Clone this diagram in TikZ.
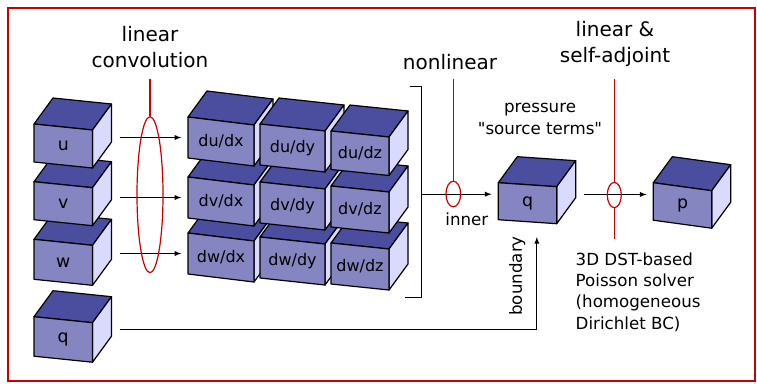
\documentclass[tikz,border=0pt]{standalone}
\usepackage{fontspec}
\setmainfont{DejaVu Sans}
\usepackage{tikz}
\usetikzlibrary{shapes, calc, arrows, positioning}

\definecolor{cubetop}{HTML}{4B4E9E}
\definecolor{cubefront}{HTML}{8585C1}
\definecolor{cubeside}{HTML}{DADAFD}
\definecolor{redline}{HTML}{CC0000}

\tikzset{
  face/.style={draw=black, line width=0.9pt, line join=round},
  flow/.style={->, line width=0.75pt, shorten >=5, shorten <=6},
  cut/.style={draw=redline, line width=0.8pt},
  ring/.style={ellipse, draw=redline, line width=0.9pt, inner sep=0pt},
  big/.style={font=\fontsize{15}{19}\selectfont, align=center},
  note/.style={font=\fontsize{12.5}{16}\selectfont, align=center},
  cubelabel/.style={font=\fontsize{13}{15}\selectfont},
}

% \datacube{name}{x}{y}{width}{height}{tilt}{label}, (x,y) = upper left corner of the front face
\newcommand{\datacube}[7]{%
  \coordinate (#1-a) at (#2,#3);
  \coordinate (#1-b) at ($(#1-a)+(#4,#6)$);
  \coordinate (#1-c) at ($(#1-b)+(0,#5)$);
  \coordinate (#1-d) at ($(#1-a)+(0,#5)$);
  \filldraw[face, fill=cubetop] (#1-a) -- (#1-b) -- ++(19,-26) -- ($(#1-a)+(19,-26)$) -- cycle;
  \filldraw[face, fill=cubeside] (#1-b) -- (#1-c) -- ++(19,-26) -- ($(#1-b)+(19,-26)$) -- cycle;
  \filldraw[face, fill=cubefront] (#1-a) -- (#1-b) -- (#1-c) -- (#1-d) -- cycle;
  \node[cubelabel] (#1) at ($(#1-a)!0.5!(#1-c)$) {#7};
  \coordinate (#1-w) at ($(#1-a)!0.5!(#1-d)$);
  \coordinate (#1-e) at ($(#1-b)+(19,0)$);
  \coordinate (#1-m) at ($(#1-a)+(0,#5/2-7)$);
}

\begin{document}
\begin{tikzpicture}[x=0.75pt, y=-0.75pt, >=latex]

\useasboundingbox (0,0) rectangle (757,383);
\draw[redline, line width=1.2pt] (8,8) rectangle (755,381);

% input fields
\datacube{qb}{34}{316.7}{58.5}{39.5}{6}{q}
\datacube{w}{34}{239.3}{58.5}{40}{6}{w}
\datacube{v}{34}{181.7}{58.5}{38}{6}{v}
\datacube{u}{34}{124}{58.5}{38}{6}{u}

% gradient tensor
\begin{scope}[cubelabel/.style={font=\fontsize{12}{14}\selectfont}]
\datacube{dwdx}{188}{233}{66}{41}{8}{dw/dx}
\datacube{dvdx}{188}{177}{66}{41}{8}{dv/dx}
\datacube{dudx}{188}{117}{66}{41}{8}{du/dx}
\datacube{dwdy}{260}{237}{65}{41}{7}{dw/dy}
\datacube{dvdy}{260}{182}{65}{41}{7}{dv/dy}
\datacube{dudy}{260}{124}{65}{41}{7}{du/dy}
\datacube{dwdz}{331}{243}{58}{41}{6}{dw/dz}
\datacube{dvdz}{331}{186}{58}{41}{6}{dv/dz}
\datacube{dudz}{331}{131}{58}{38.5}{6}{du/dz}
\end{scope}

\datacube{q}{498.3}{182.7}{58.4}{37}{4}{q}
\datacube{p}{653.3}{182.7}{58.4}{37.5}{8}{p}

\foreach \src/\dst in {u/dudx, v/dvdx, w/dwdx}
  \draw[flow] (\dst-w -| \src-e) -- (\dst-w);

\coordinate (brtop) at (421.7,86);
\coordinate (brbot) at (421.7,297);
\draw[line width=0.75pt] ($(brtop)+(-11.7,0)$) -- (brtop) -- (brbot) -- ($(brbot)+(-16.7,0)$);

\draw[flow, shorten <=0] (brtop |- q-m) -- (q-m) node[note, pos=0.59, below=10pt] (inner) {inner};
\draw[flow] (q-e |- p-m) -- (p-m);
\draw[flow, shorten >=11] (qb-e |- qb-m) -| ($(q-d)!0.66!(q-c)$)
  node[note, pos=0.75, sloped, above=5pt] (bnd) {boundary};

% operator labels
\node[ring, minimum width=19.5pt, minimum height=117pt] (ringconv) at (150,194.7) {};
\draw[cut] (ringconv.north) -- (ringconv.north |- 0,79.3);
\node[big] (conv) at (150,47) {linear\\convolution};

\node[ring, minimum width=11pt, minimum height=19.2pt] (ringinner) at (453.3,194) {};
\draw[cut] (ringinner.north) -- (ringinner.north |- 0,79.3);
\node[big] (nonlin) at (450,62) {nonlinear};

\node[ring, minimum width=10.5pt, minimum height=19pt] (ringsolve) at (614.3,195) {};
\draw[cut] (ringsolve.north) -- (ringsolve.north |- 0,79.3);
\draw[cut] (ringsolve.south) -- (ringsolve.south |- 0,239.3);
\node[big] (selfadj) at (615,44) {linear \&\\self-adjoint};

\node[note] (pressure) at (540,119) {pressure\\\textquotedbl{}source terms\textquotedbl};
\node[note, align=left, anchor=west] (solver) at (571,292)
  {3D DST-based\\Poisson solver\\(homogeneous\\Dirichlet BC)};

\end{tikzpicture}
\end{document}
